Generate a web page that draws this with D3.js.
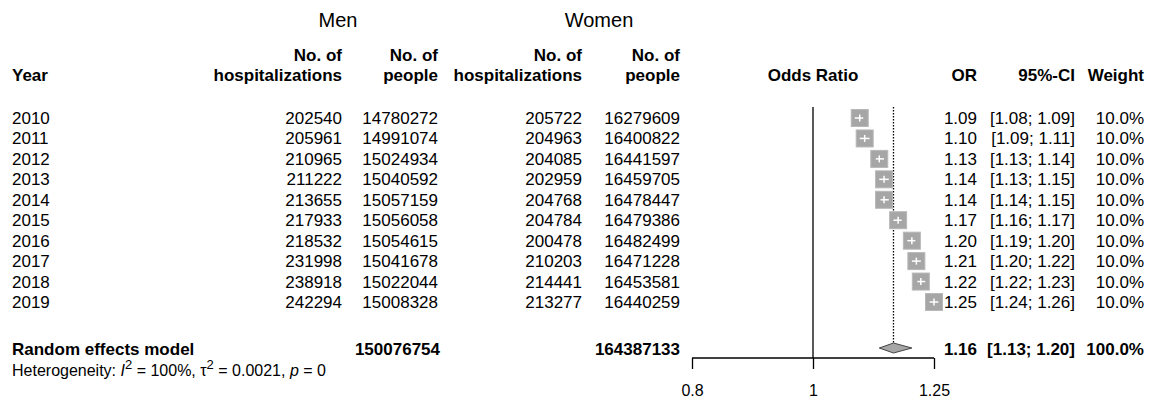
<!DOCTYPE html>
<html>
<head>
<meta charset="utf-8">
<script src="https://cdn.jsdelivr.net/npm/d3@7"></script>
<style>
  html, body { margin: 0; padding: 0; background: #fff; }
  svg { display: block; font-family: "Liberation Sans", Arial, sans-serif; }
</style>
</head>
<body>
<svg id="chart" width="1151" height="418"></svg>
<script>
// Study rows: one per year
const years = ["2010", "2011", "2012", "2013", "2014", "2015", "2016", "2017", "2018", "2019"];
const menHosp = [202540, 205961, 210965, 211222, 213655, 217933, 218532, 231998, 238918, 242294];
const menPeople = [14780272, 14991074, 15024934, 15040592, 15057159, 15056058, 15054615, 15041678, 15022044, 15008328];
const womenHosp = [205722, 204963, 204085, 202959, 204768, 204784, 200478, 210203, 214441, 213277];
const womenPeople = [16279609, 16400822, 16441597, 16459705, 16478447, 16479386, 16482499, 16471228, 16453581, 16440259];
const oddsRatio = [1.09, 1.10, 1.13, 1.14, 1.14, 1.17, 1.20, 1.21, 1.22, 1.25];
const ciLower = [1.08, 1.09, 1.13, 1.13, 1.14, 1.16, 1.19, 1.20, 1.22, 1.24];
const ciUpper = [1.09, 1.11, 1.14, 1.15, 1.15, 1.17, 1.20, 1.22, 1.23, 1.26];
const weights = [10.0, 10.0, 10.0, 10.0, 10.0, 10.0, 10.0, 10.0, 10.0, 10.0];

// Pooled (random effects) result
const pooledLabel = "Random effects model";
const pooledMenPeople = 150076754;
const pooledWomenPeople = 164387133;
const pooledOR = 1.16;
const pooledLower = 1.13;
const pooledUpper = 1.20;
const pooledWeight = 100.0;

// Axis ticks
const axisTicks = [0.8, 1, 1.25];

const svg = d3.select("#chart");
const fs = 17;

// Forest plot x scale (log odds)
const x = d3.scaleLog().domain([0.8, 1.25]).range([692, 934]);

// Row positions
const y = d3.scalePoint().domain(years).range([118, 302]);
const yPooled = 348;
const yHet = 371;

const fmt2 = d3.format(".2f");
const fmtW = d => d3.format(".1f")(d) + "%";

function txt(g, xPos, yPos, s, anchor, opts = {}) {
  return g.append("text")
    .attr("x", xPos).attr("y", yPos)
    .attr("text-anchor", anchor)
    .attr("font-size", opts.size || fs)
    .attr("font-weight", opts.bold ? "bold" : "normal")
    .attr("fill", "#000")
    .text(s);
}

// Group titles
txt(svg, 338, 27, "Men", "middle", { size: 20 });
txt(svg, 599, 27, "Women", "middle", { size: 20 });

// Column headers
const hdr = svg.append("g");
txt(hdr, 12, 81, "Year", "start", { bold: true });
txt(hdr, 342, 61, "No. of", "end", { bold: true });
txt(hdr, 342, 81, "hospitalizations", "end", { bold: true });
txt(hdr, 438, 61, "No. of", "end", { bold: true });
txt(hdr, 438, 81, "people", "end", { bold: true });
txt(hdr, 582, 61, "No. of", "end", { bold: true });
txt(hdr, 582, 81, "hospitalizations", "end", { bold: true });
txt(hdr, 680, 61, "No. of", "end", { bold: true });
txt(hdr, 680, 81, "people", "end", { bold: true });
txt(hdr, x(1), 81, "Odds Ratio", "middle", { bold: true });
txt(hdr, 977, 81, "OR", "end", { bold: true });
txt(hdr, 1075, 81, "95%-CI", "end", { bold: true });
txt(hdr, 1144, 81, "Weight", "end", { bold: true });

// Study rows text
const rows = svg.append("g");
years.forEach((yr, i) => {
  const b = y(yr) + 6;
  txt(rows, 12, b, yr, "start");
  txt(rows, 342, b, menHosp[i], "end");
  txt(rows, 438, b, menPeople[i], "end");
  txt(rows, 582, b, womenHosp[i], "end");
  txt(rows, 680, b, womenPeople[i], "end");
  txt(rows, 977, b, fmt2(oddsRatio[i]), "end");
  txt(rows, 1075, b, "[" + fmt2(ciLower[i]) + "; " + fmt2(ciUpper[i]) + "]", "end");
  txt(rows, 1144, b, fmtW(weights[i]), "end");
});

// Pooled row text
const pb = yPooled + 7;
txt(svg, 12, pb, pooledLabel, "start", { bold: true });
txt(svg, 440, pb, pooledMenPeople, "end", { bold: true });
txt(svg, 680, pb, pooledWomenPeople, "end", { bold: true });
txt(svg, 977, pb, fmt2(pooledOR), "end", { bold: true });
txt(svg, 1075, pb, "[" + fmt2(pooledLower) + "; " + fmt2(pooledUpper) + "]", "end", { bold: true });
txt(svg, 1144, pb, fmtW(pooledWeight), "end", { bold: true });

// Heterogeneity line with italics and superscripts
const het = svg.append("text")
  .attr("x", 12).attr("y", yHet + 5)
  .attr("font-size", 16).attr("fill", "#000");
het.append("tspan").text("Heterogeneity: ");
het.append("tspan").attr("font-style", "italic").text("I");
het.append("tspan").attr("dy", -7).attr("font-size", 13).text("2");
het.append("tspan").attr("dy", 7).text(" = 100%, \u03C4");
het.append("tspan").attr("dy", -7).attr("font-size", 13).text("2");
het.append("tspan").attr("dy", 7).text(" = 0.0021, ");
het.append("tspan").attr("font-style", "italic").text("p");
het.append("tspan").text(" = 0");

// Reference line at OR = 1
const axisY = 358;
svg.append("line")
  .attr("x1", x(1)).attr("x2", x(1))
  .attr("y1", 107).attr("y2", axisY)
  .attr("stroke", "#000").attr("stroke-width", 1.3);

// Pooled estimate dotted line
svg.append("line")
  .attr("x1", x(pooledOR)).attr("x2", x(pooledOR))
  .attr("y1", 107).attr("y2", yPooled - 5)
  .attr("stroke", "#000").attr("stroke-width", 1.3)
  .attr("stroke-dasharray", "1.5,1.5");

// Study squares with CI drawn inside in white
const box = 17;
const marks = svg.append("g");
years.forEach((yr, i) => {
  const cx = x(oddsRatio[i]);
  const cy = y(yr);
  marks.append("rect")
    .attr("x", cx - box / 2).attr("y", cy - box / 2)
    .attr("width", box).attr("height", box)
    .attr("fill", "#a6a6a6").attr("stroke", "#b8b8b8").attr("stroke-width", 1);
  const lo = Math.min(x(ciLower[i]), cx - 3.5);
  const hi = Math.max(x(ciUpper[i]), cx + 3.5);
  marks.append("line")
    .attr("x1", lo).attr("x2", hi).attr("y1", cy).attr("y2", cy)
    .attr("stroke", "#fff").attr("stroke-width", 1.5);
  marks.append("line")
    .attr("x1", cx).attr("x2", cx).attr("y1", cy - 3.5).attr("y2", cy + 3.5)
    .attr("stroke", "#fff").attr("stroke-width", 1.5);
});

// Pooled diamond
const dH = 5;
svg.append("path")
  .attr("d", `M${x(pooledLower)},${yPooled} L${x(pooledOR)},${yPooled - dH} L${x(pooledUpper)},${yPooled} L${x(pooledOR)},${yPooled + dH} Z`)
  .attr("fill", "#a6a6a6").attr("stroke", "#444").attr("stroke-width", 1);

// Bottom axis
const axis = d3.axisBottom(x)
  .tickValues(axisTicks)
  .tickSize(11)
  .tickSizeOuter(0)
  .tickFormat(d => String(d));
const ag = svg.append("g").attr("transform", `translate(0,${axisY})`).call(axis);
ag.select(".domain").attr("stroke", "#000").attr("stroke-width", 1.3)
  .attr("d", `M${x(0.8)},0H${x(1.25)}`);
ag.selectAll(".tick line").attr("stroke", "#000").attr("stroke-width", 1.3);
ag.selectAll(".tick text")
  .attr("font-size", 16).attr("font-family", "Liberation Sans, Arial, sans-serif")
  .attr("fill", "#000").attr("dy", "0").attr("y", 38);
</script>
</body>
</html>
